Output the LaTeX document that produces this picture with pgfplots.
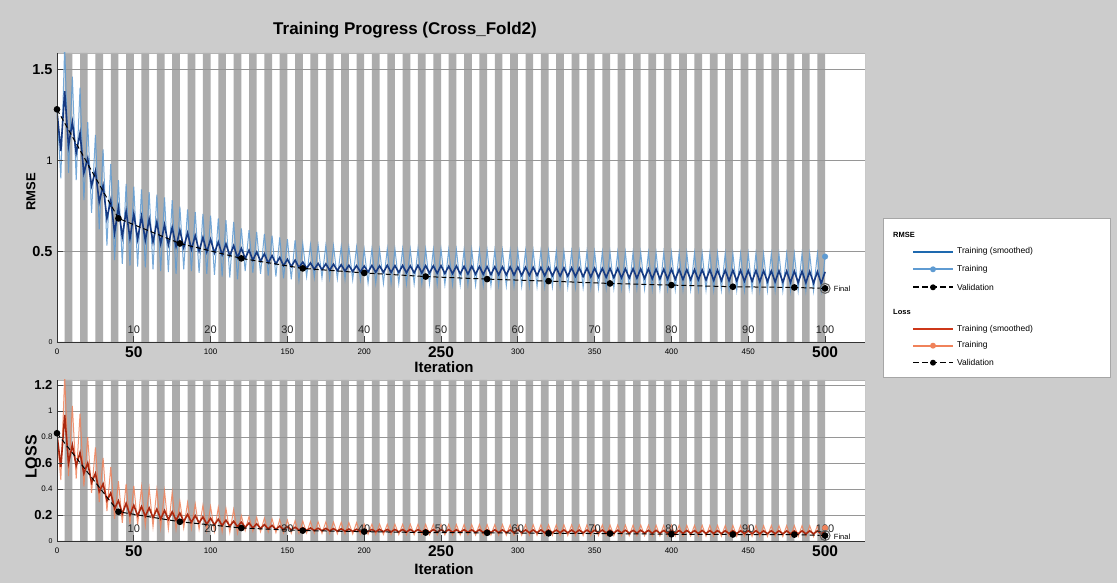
\documentclass[border=0pt]{standalone}
\usepackage{pgfplots}
\pgfplotsset{compat=1.18}
\usepackage{pgfplotstable}
\usepackage{fontspec}
\setmainfont{Liberation Sans}
\setsansfont{Liberation Sans}

\definecolor{bgc}{RGB}{204,204,204}
\definecolor{bargray}{RGB}{172,172,172}
\definecolor{gridc}{RGB}{150,150,150}
\definecolor{smblue}{RGB}{22,58,130}
\definecolor{rawblue}{RGB}{95,155,210}
\definecolor{legblue}{RGB}{30,105,175}
\definecolor{smred}{RGB}{170,40,15}
\definecolor{rawred}{RGB}{240,130,90}
\definecolor{legred}{RGB}{205,55,25}
\newcommand{\ep}[1]{{\fontsize{11}{12}\selectfont\color{black!85}#1}}
\newcommand{\bigt}[1]{{\fontsize{15.5}{16}\selectfont\bfseries #1}}

\pgfplotstableread{
x h
0 0
5 1
10 0
15 1
20 0
25 1
30 0
35 1
40 0
45 1
50 0
55 1
60 0
65 1
70 0
75 1
80 0
85 1
90 0
95 1
100 0
105 1
110 0
115 1
120 0
125 1
130 0
135 1
140 0
145 1
150 0
155 1
160 0
165 1
170 0
175 1
180 0
185 1
190 0
195 1
200 0
205 1
210 0
215 1
220 0
225 1
230 0
235 1
240 0
245 1
250 0
255 1
260 0
265 1
270 0
275 1
280 0
285 1
290 0
295 1
300 0
305 1
310 0
315 1
320 0
325 1
330 0
335 1
340 0
345 1
350 0
355 1
360 0
365 1
370 0
375 1
380 0
385 1
390 0
395 1
400 0
405 1
410 0
415 1
420 0
425 1
430 0
435 1
440 0
445 1
450 0
455 1
460 0
465 1
470 0
475 1
480 0
485 1
490 0
495 1
500 0
}\epochtable

\pgfplotstableread{
x rs rr ls lr
0 1.27 1.28 0.82 0.82
2.5 1.05 0.90 0.57 0.47
5 1.38 1.63 0.97 1.27
7.5 1.08 0.93 0.60 0.50
10 1.21 1.46 0.74 1.04
12.5 1.04 0.89 0.58 0.48
15 1.15 1.40 0.68 0.98
17.5 0.93 0.78 0.52 0.42
20 1.01 1.21 0.60 0.80
22.5 0.86 0.71 0.45 0.37
25 0.94 1.14 0.52 0.72
27.5 0.77 0.62 0.38 0.30
30 0.86 1.06 0.44 0.64
32.5 0.68 0.53 0.31 0.23
35 0.78 0.98 0.37 0.57
37.5 0.60 0.45 0.25 0.17
40 0.74 0.89 0.31 0.46
42.5 0.58 0.43 0.21 0.14
45 0.72 0.87 0.29 0.44
47.5 0.57 0.42 0.20 0.13
50 0.705 0.855 0.275 0.425
52.5 0.565 0.415 0.195 0.125
55 0.69 0.84 0.265 0.415
57.5 0.56 0.41 0.19 0.12
60 0.675 0.825 0.255 0.405
62.5 0.55 0.40 0.18 0.11
65 0.66 0.81 0.245 0.395
67.5 0.54 0.39 0.17 0.10
70 0.645 0.795 0.235 0.385
72.5 0.535 0.385 0.165 0.095
75 0.63 0.78 0.225 0.375
77.5 0.525 0.375 0.16 0.09
80 0.615 0.745 0.215 0.305
82.5 0.52 0.40 0.15 0.10
85 0.60 0.73 0.205 0.295
87.5 0.51 0.39 0.145 0.095
90 0.585 0.715 0.195 0.285
92.5 0.50 0.38 0.14 0.09
95 0.575 0.705 0.185 0.275
97.5 0.495 0.375 0.13 0.08
100 0.565 0.695 0.175 0.265
102.5 0.49 0.37 0.125 0.075
105 0.55 0.68 0.168 0.258
107.5 0.48 0.36 0.12 0.07
110 0.54 0.67 0.16 0.25
112.5 0.475 0.355 0.115 0.065
115 0.53 0.66 0.152 0.242
117.5 0.465 0.345 0.11 0.06
120 0.515 0.625 0.145 0.195
122.5 0.46 0.39 0.105 0.08
125 0.505 0.615 0.138 0.188
127.5 0.45 0.38 0.10 0.075
130 0.495 0.605 0.132 0.182
132.5 0.445 0.375 0.097 0.072
135 0.485 0.595 0.126 0.176
137.5 0.435 0.365 0.094 0.069
140 0.475 0.585 0.12 0.17
142.5 0.43 0.36 0.09 0.065
145 0.465 0.575 0.115 0.165
147.5 0.42 0.35 0.088 0.063
150 0.455 0.565 0.11 0.16
152.5 0.415 0.345 0.086 0.061
155 0.45 0.56 0.106 0.156
157.5 0.41 0.34 0.084 0.059
160 0.44 0.54 0.103 0.153
162.5 0.405 0.36 0.082 0.062
165 0.435 0.535 0.10 0.15
167.5 0.40 0.355 0.081 0.061
170 0.432 0.532 0.098 0.148
172.5 0.398 0.353 0.079 0.059
175 0.43 0.53 0.097 0.147
177.5 0.395 0.35 0.078 0.058
180 0.428 0.528 0.095 0.145
182.5 0.393 0.348 0.076 0.056
185 0.425 0.525 0.094 0.144
187.5 0.39 0.345 0.075 0.055
190 0.422 0.522 0.092 0.142
192.5 0.388 0.343 0.074 0.054
195 0.42 0.52 0.091 0.141
197.5 0.386 0.341 0.073 0.053
200 .418 .508 .090 .130
202.5 .385 .325 .072 .052
205 .421 .511 .089 .129
207.5 .384 .324 .071 .051
210 .419 .509 .090 .130
212.5 .383 .323 .071 .051
215 .422 .512 .089 .129
217.5 .383 .323 .070 .050
220 .420 .510 .089 .129
222.5 .382 .322 .070 .050
225 .421 .511 .088 .128
227.5 .381 .321 .069 .049
230 .419 .509 .089 .129
232.5 .381 .321 .069 .049
235 .422 .512 .088 .128
237.5 .380 .320 .069 .049
240 .420 .510 .088 .128
242.5 .379 .319 .068 .048
245 .419 .509 .088 .128
247.5 .378 .318 .068 .048
250 .420 .510 .087 .127
252.5 .377 .317 .068 .048
255 .417 .507 .088 .128
257.5 .376 .316 .067 .047
260 .418 .508 .087 .127
262.5 .375 .315 .067 .047
265 .416 .506 .087 .127
267.5 .374 .314 .067 .047
270 .417 .507 .086 .126
272.5 .373 .313 .066 .046
275 .415 .505 .087 .127
277.5 .372 .312 .066 .046
280 .415 .505 .086 .126
282.5 .371 .311 .066 .046
285 .414 .504 .086 .126
287.5 .370 .310 .065 .045
290 .413 .503 .086 .126
292.5 .369 .309 .065 .045
295 .413 .503 .085 .125
297.5 .368 .308 .065 .045
300 .412 .502 .086 .126
302.5 .367 .307 .065 .045
305 .411 .501 .085 .125
307.5 .367 .307 .064 .044
310 .411 .501 .085 .125
312.5 .366 .306 .064 .044
315 .410 .500 .085 .125
317.5 .365 .305 .064 .044
320 .410 .500 .085 .125
322.5 .364 .304 .064 .044
325 .409 .499 .084 .124
327.5 .363 .303 .064 .044
330 .408 .498 .085 .125
332.5 .362 .302 .063 .043
335 .408 .498 .084 .124
337.5 .361 .301 .063 .043
340 .407 .497 .084 .124
342.5 .360 .300 .063 .043
345 .406 .496 .084 .124
347.5 .358 .298 .063 .043
350 .406 .496 .083 .123
352.5 .357 .297 .063 .043
355 .405 .495 .084 .124
357.5 .356 .296 .062 .042
360 .405 .495 .083 .123
362.5 .354 .296 .062 .042
365 .404 .494 .083 .123
367.5 .353 .295 .062 .042
370 .403 .494 .083 .123
372.5 .352 .294 .061 .041
375 .403 .493 .082 .122
377.5 .351 .293 .061 .041
380 .402 .493 .083 .123
382.5 .350 .292 .061 .041
385 .402 .492 .082 .122
387.5 .348 .291 .060 .040
390 .401 .492 .082 .122
392.5 .347 .290 .060 .040
395 .400 .491 .081 .121
397.5 .346 .290 .060 .040
400 .400 .491 .082 .122
402.5 .345 .289 .059 .039
405 .399 .490 .081 .121
407.5 .344 .288 .059 .039
410 .398 .490 .081 .121
412.5 .343 .288 .059 .039
415 .398 .489 .080 .120
417.5 .342 .287 .058 .038
420 .397 .489 .081 .121
422.5 .341 .287 .058 .038
425 .397 .488 .080 .120
427.5 .339 .286 .058 .038
430 .396 .488 .080 .120
432.5 .338 .286 .057 .037
435 .395 .487 .079 .119
437.5 .337 .285 .057 .037
440 .395 .487 .080 .120
442.5 .336 .285 .057 .037
445 .394 .486 .079 .119
447.5 .335 .284 .057 .037
450 .393 .486 .079 .119
452.5 .334 .284 .056 .036
455 .393 .486 .079 .119
457.5 .333 .283 .056 .036
460 .392 .485 .078 .118
462.5 .332 .283 .056 .036
465 .391 .485 .079 .119
467.5 .331 .283 .056 .036
470 .391 .485 .078 .118
472.5 .329 .282 .055 .035
475 .390 .485 .078 .118
477.5 .328 .282 .055 .035
480 .390 .486 .078 .118
482.5 .327 .282 .055 .035
485 .389 .486 .078 .118
487.5 .326 .282 .055 .035
490 .388 .486 .078 .118
492.5 .324 .282 .055 .035
495 .387 .486 .078 .118
497.5 .322 .282 .055 .035
500 .386 .470 .078 .100
}\trainingdata

\pgfplotsset{
  tpstyle/.style={
    scale only axis, width=808pt,
    xmin=0, xmax=526,
    axis on top,
    axis x line*=bottom, axis y line*=left,
    axis line style={black!80, line width=0.8pt},
    xtick={0,50,...,500},
    xticklabels={0,\bigt{50},100,150,200,\bigt{250},300,350,400,450,\bigt{500}},
    xticklabel style={font=\fontsize{8}{9}\selectfont, anchor=center, yshift=-10pt},
    extra x ticks={50,100,150,200,250,300,350,400,450,500},
    extra x tick labels={\ep{10},\ep{20},\ep{30},\ep{40},\ep{50},\ep{60},\ep{70},\ep{80},\ep{90},\ep{100}},
    extra x tick style={tick label style={yshift=22pt}},
    major tick length=6pt,
    tick style={black!75, line width=0.7pt},
    yticklabel style={anchor=east, xshift=-1pt},
  }
}

\begin{document}
\begin{tikzpicture}[x=1pt,y=1pt]
\fill[bgc] (0,0) rectangle (1117,583);
\fill[white] (57,241) rectangle (865,530);
\fill[white] (57,42) rectangle (865,203);
\node[font=\fontsize{17}{20}\selectfont\bfseries] at (405,553) {Training Progress (Cross\_Fold2)};

% ---------------- RMSE ----------------
\begin{axis}[tpstyle,
  at={(57pt,241pt)}, anchor=south west, height=289pt,
  ymin=0, ymax=1.59,
  ytick={0,0.5,1,1.5},
  yticklabels={{\fontsize{7}{8}\selectfont 0},{\fontsize{14.5}{15}\selectfont\bfseries 0.5},{\fontsize{11}{12}\selectfont 1},{\fontsize{14.5}{15}\selectfont\bfseries 1.5}},
]
\addplot[const plot, fill=bargray, draw=none] table[x=x, y expr=\thisrow{h}*1.59] {\epochtable} \closedcycle;
\draw[gridc, line width=0.6pt] (axis cs:0,0.5) -- (axis cs:526,0.5);
\draw[gridc, line width=0.6pt] (axis cs:0,1) -- (axis cs:526,1);
\draw[gridc, line width=0.6pt] (axis cs:0,1.5) -- (axis cs:526,1.5);
\draw[gray!60, line width=0.6pt] (rel axis cs:0,1) -- (rel axis cs:1,1) -- (rel axis cs:1,0);
\addplot[rawblue, line width=1pt, opacity=0.85] table[x=x, y=rr] {\trainingdata};
\addplot[smblue, line width=1.6pt] table[x=x, y=rs] {\trainingdata};
\addplot[black, line width=1pt, dash pattern=on 5pt off 3pt, mark=*, mark size=2.8pt, mark options={solid}] coordinates {
(0,1.28) (40,0.68) (80,0.542) (120,0.46) (160,0.405) (200,0.38) (240,0.36) (280,0.346) (320,0.335) (360,0.322) (400,0.313) (440,0.304) (480,0.30) (500,0.295)};
\addplot[only marks, mark=*, mark size=2.8pt, rawblue] coordinates {(500,0.47)};
\addplot[only marks, mark=o, mark size=5pt, gray!80!black, line width=1.1pt] coordinates {(500,0.295)};
\node[anchor=west, font=\fontsize{7.5}{8}\selectfont, inner sep=1pt] at (axis cs:505,0.29) {Final};
\end{axis}

% ---------------- LOSS ----------------
\begin{axis}[tpstyle,
  at={(57pt,42pt)}, anchor=south west, height=161pt,
  ymin=0, ymax=1.24,
  ytick={0,0.2,0.4,0.6,0.8,1,1.2},
  yticklabels={{\fontsize{7}{8}\selectfont 0},{\fontsize{13}{14}\selectfont\bfseries 0.2},{\fontsize{8}{9}\selectfont 0.4},{\fontsize{13}{14}\selectfont\bfseries 0.6},{\fontsize{8}{9}\selectfont 0.8},{\fontsize{8}{9}\selectfont 1},{\fontsize{13}{14}\selectfont\bfseries 1.2}},
]
\addplot[const plot, fill=bargray, draw=none] table[x=x, y expr=\thisrow{h}*1.24] {\epochtable} \closedcycle;
\draw[gridc, line width=0.6pt] (axis cs:0,0.2) -- (axis cs:526,0.2);
\draw[gridc, line width=0.6pt] (axis cs:0,0.4) -- (axis cs:526,0.4);
\draw[gridc, line width=0.6pt] (axis cs:0,0.6) -- (axis cs:526,0.6);
\draw[gridc, line width=0.6pt] (axis cs:0,0.8) -- (axis cs:526,0.8);
\draw[gridc, line width=0.6pt] (axis cs:0,1) -- (axis cs:526,1);
\draw[gridc, line width=0.6pt] (axis cs:0,1.2) -- (axis cs:526,1.2);
\draw[gray!60, line width=0.6pt] (rel axis cs:0,1) -- (rel axis cs:1,1) -- (rel axis cs:1,0);
\addplot[rawred, line width=1pt, opacity=0.85] table[x=x, y=lr] {\trainingdata};
\addplot[smred, line width=1.6pt] table[x=x, y=ls] {\trainingdata};
\addplot[black, line width=1pt, dash pattern=on 5pt off 3pt, mark=*, mark size=2.8pt, mark options={solid}] coordinates {
(0,0.83) (40,0.225) (80,0.148) (120,0.10) (160,0.08) (200,0.072) (240,0.065) (280,0.063) (320,0.059) (360,0.057) (400,0.052) (440,0.05) (480,0.049) (500,0.042)};
\addplot[only marks, mark=*, mark size=2.8pt, rawred] coordinates {(500,0.10)};
\addplot[only marks, mark=o, mark size=5pt, gray!80!black, line width=1.1pt] coordinates {(500,0.042)};
\node[anchor=west, font=\fontsize{7.5}{8}\selectfont, inner sep=1pt] at (axis cs:505,0.035) {Final};
\end{axis}

% axis labels
\node[font=\fontsize{15}{16}\selectfont\bfseries] at (444,216) {Iteration};
\node[font=\fontsize{15}{16}\selectfont\bfseries] at (444,14) {Iteration};
\node[font=\fontsize{13}{14}\selectfont\bfseries, rotate=90] at (31,391) {RMSE};
\node[font=\fontsize{16}{17}\selectfont\bfseries, rotate=90] at (31,126) {LOSS};

% legend
\draw[gray!70, fill=white, line width=0.6pt] (883,206) rectangle (1110,365);
\node[anchor=west, font=\fontsize{7.5}{8}\selectfont\bfseries, inner sep=0pt] at (893,348) {RMSE};
\draw[legblue, line width=2pt] (913,331.3) -- (953,331.3);
\node[anchor=west, font=\fontsize{8.5}{9}\selectfont, inner sep=0pt] at (957,331.3) {Training (smoothed)};
\draw[rawblue, line width=2pt] (913,313.7) -- (953,313.7);
\fill[rawblue] (933,313.7) circle (3);
\node[anchor=west, font=\fontsize{8.5}{9}\selectfont, inner sep=0pt] at (957,313.7) {Training};
\draw[black, line width=1.6pt, dash pattern=on 6pt off 3pt] (913,295.7) -- (953,295.7);
\fill[black] (933,295.7) circle (3);
\node[anchor=west, font=\fontsize{8.5}{9}\selectfont, inner sep=0pt] at (957,295.7) {Validation};
\node[anchor=west, font=\fontsize{7.5}{8}\selectfont\bfseries, inner sep=0pt] at (893,271.3) {Loss};
\draw[legred, line width=2pt] (913,253.7) -- (953,253.7);
\node[anchor=west, font=\fontsize{8.5}{9}\selectfont, inner sep=0pt] at (957,253.7) {Training (smoothed)};
\draw[rawred, line width=2pt] (913,237.3) -- (953,237.3);
\fill[rawred] (933,237.3) circle (3);
\node[anchor=west, font=\fontsize{8.5}{9}\selectfont, inner sep=0pt] at (957,237.3) {Training};
\draw[black, line width=1.6pt, dash pattern=on 6pt off 3pt] (913,220.3) -- (953,220.3);
\fill[black] (933,220.3) circle (3);
\node[anchor=west, font=\fontsize{8.5}{9}\selectfont, inner sep=0pt] at (957,220.3) {Validation};
\end{tikzpicture}
\end{document}
